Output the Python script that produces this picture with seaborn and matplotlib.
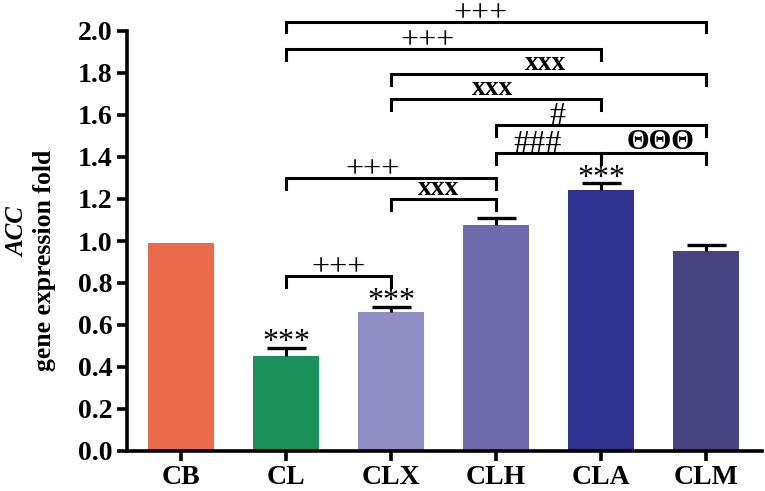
import matplotlib
matplotlib.use("Agg")
import matplotlib.pyplot as plt
import seaborn as sns

# data
groups = ["CB", "CL", "CLX", "CLH", "CLA", "CLM"]
values = [0.99, 0.452, 0.662, 1.075, 1.245, 0.953]
errors = [0.0, 0.040, 0.025, 0.035, 0.030, 0.027]
colors = ["#EA6A4C", "#1A915A", "#908CC4", "#6E6AAB", "#2F3190", "#484482"]

# significance marks above bars
star_groups = ["CL", "CLX", "CLA"]
star_labels = ["***", "***", "***"]

# comparison brackets: (left group, right group, height, label, label x)
bracket_left = ["CL", "CL", "CLX", "CLX", "CLH", "CLH", "CLA", "CL", "CLX", "CL"]
bracket_right = ["CLM", "CLA", "CLM", "CLA", "CLM", "CLA", "CLM", "CLH", "CLH", "CLX"]
bracket_y = [2.043, 1.914, 1.795, 1.676, 1.552, 1.419, 1.419, 1.300, 1.200, 0.833]
bracket_text = ["+++", "+++", "xxx", "xxx", "#", "###", "ΘΘΘ", "+++", "xxx", "+++"]
bracket_text_x = [2.85, 2.35, 3.47, 2.97, 3.58, 3.39, 4.56, 1.82, 2.45, 1.50]

serif = "Liberation Serif"
plt.rcParams["font.family"] = serif

fig = plt.figure(figsize=(7.65, 4.91), dpi=100)
ax = fig.add_axes([127 / 765, 1 - 451 / 491, 635 / 765, 420 / 491])

sns.barplot(x=groups, y=values, hue=groups, palette=colors, legend=False,
            width=0.63, saturation=1, ax=ax)

pos = {g: i for i, g in enumerate(groups)}
cap = 0.185
for g, v, e in zip(groups, values, errors):
    if e > 0:
        i = pos[g]
        ax.vlines(i, v, v + e, color="black", lw=2.2, zorder=5)
        ax.hlines(v + e, i - cap, i + cap, color="black", lw=2.4, zorder=5)

for g, s in zip(star_groups, star_labels):
    i = pos[g]
    ax.text(i, values[i] + errors[i] - 0.012, s, ha="center", va="baseline",
            fontsize=23, fontfamily=serif)

drop = 0.05
for l, r, y, t, tx in zip(bracket_left, bracket_right, bracket_y, bracket_text, bracket_text_x):
    x0, x1 = pos[l], pos[r]
    ax.plot([x0, x0, x1, x1], [y - drop, y, y, y - drop], color="black",
            lw=2.2, clip_on=False, solid_joinstyle="miter")
    if t in ("xxx", "ΘΘΘ"):
        ax.text(tx, y + 0.018, t, ha="center", va="baseline",
                fontsize=20 if t == "xxx" else 21, fontweight="bold",
                fontfamily=serif, clip_on=False)
    else:
        ax.text(tx, y + 0.005, t, ha="center", va="baseline", fontsize=23,
                fontfamily=serif, clip_on=False)

ax.set_xlim(-0.514, 5.53)
ax.set_ylim(0, 2.0)
ax.set_yticks([i / 10 for i in range(0, 21, 2)])
ax.set_yticklabels([f"{i / 10:.1f}" for i in range(0, 21, 2)])
for side in ["top", "right"]:
    ax.spines[side].set_visible(False)
for side in ["left", "bottom"]:
    ax.spines[side].set_linewidth(2.6)
ax.tick_params(axis="both", width=2.6, length=7, direction="out")
ax.tick_params(axis="x", pad=3)
for lab in ax.get_yticklabels():
    lab.set_fontsize(20)
    lab.set_fontweight("bold")
for lab in ax.get_xticklabels():
    lab.set_fontsize(20)
    lab.set_fontweight("bold")
ax.set_xlabel("")
ax.set_ylabel("")

fig.text(18 / 765, 1 - 232 / 491, "ACC", rotation=90, ha="center", va="center",
         fontsize=18, fontstyle="italic", fontweight="bold", fontfamily=serif)
fig.text(45 / 765, 1 - 260 / 491, "gene expression fold", rotation=90,
         ha="center", va="center", fontsize=18.5, fontweight="bold", fontfamily=serif)

fig.savefig("out.png", dpi=100)
